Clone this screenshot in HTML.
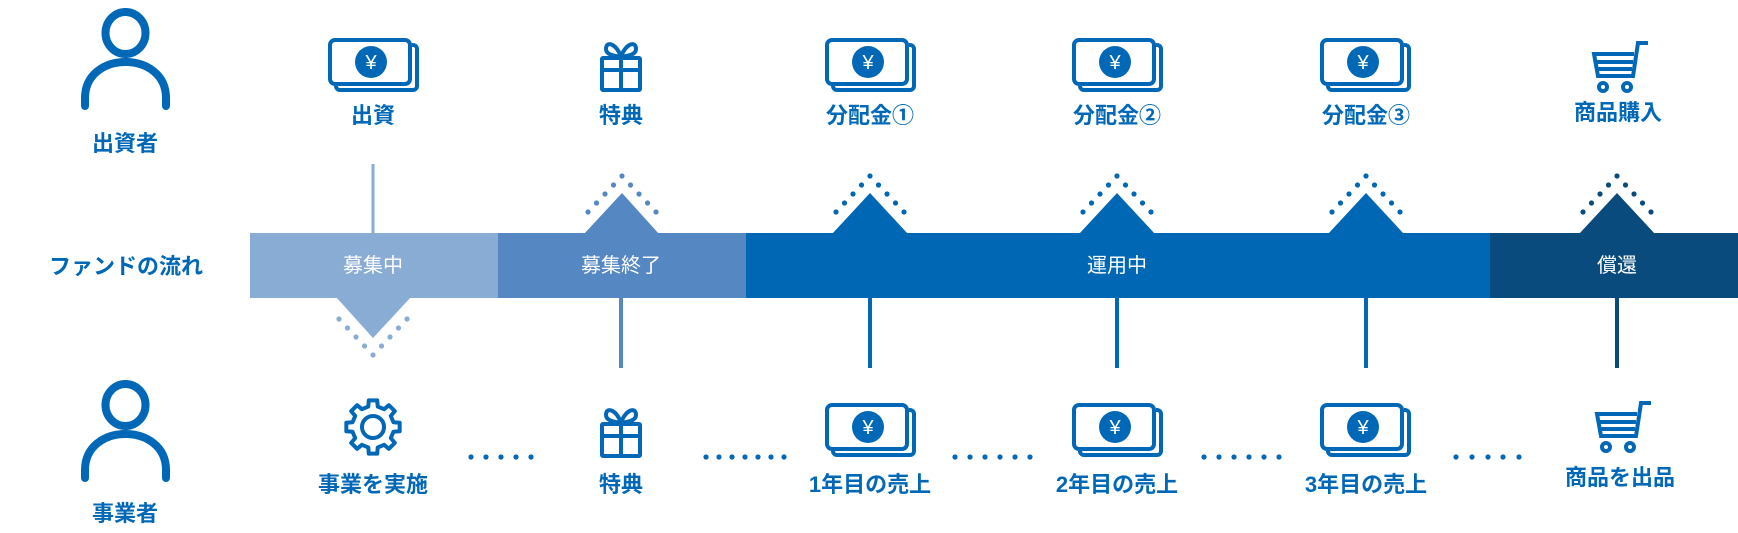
<!DOCTYPE html>
<html><head><meta charset="utf-8"><style>
html,body{margin:0;padding:0;background:#fff;}
svg{display:block;}
.l{font-family:"Liberation Sans","Noto Sans CJK JP",sans-serif;font-weight:bold;font-size:22px;fill:#0068b6;text-anchor:middle;}
.b{font-family:"Liberation Sans","Noto Sans CJK JP",sans-serif;font-size:20px;fill:#fff;text-anchor:middle;}
</style></head><body>
<svg width="1738" height="533" viewBox="0 0 1738 533" xmlns="http://www.w3.org/2000/svg">
<defs>
<g id="money" fill="none" stroke="#0068b6" stroke-width="4">
  <rect x="2" y="2" width="80" height="44" rx="5"/>
  <path d="M84,7 h1 a4,4 0 0 1 4,4 v37 a4,4 0 0 1 -4,4 h-73 a4,4 0 0 1 -4,-4"/>
  <circle cx="43" cy="24" r="16" fill="#0068b6" stroke="none"/>
  <text x="43" y="31" font-family="Liberation Sans, sans-serif" font-size="20" fill="#fff" stroke="none" text-anchor="middle">¥</text>
</g>
<g id="gift" fill="none" stroke="#0068b6" stroke-width="4">
  <rect x="-19" y="16" width="38" height="32" rx="1"/>
  <line x1="-19" y1="28" x2="19" y2="28"/>
  <line x1="0" y1="16" x2="0" y2="48"/>
  <path d="M0,15 C-4,2 -15,-2 -15,7 C-15,13 -6,14 0,15 C6,14 15,13 15,7 C15,-2 4,2 0,15"/>
</g>
<g id="cart" fill="none" stroke="#0068b6" stroke-width="4">
  <path d="M55,1 H45 L40,34 H5 L1,12 H41"/>
  <line x1="3" y1="20" x2="40" y2="20"/>
  <line x1="4" y1="27" x2="39" y2="27"/>
  <circle cx="10" cy="45" r="4"/>
  <circle cx="34" cy="45" r="4"/>
</g>
<g id="dotsUp">
  <circle cx="0" cy="176" r="2.6"/><circle cx="-8.5" cy="185" r="2.6"/><circle cx="8.5" cy="185" r="2.6"/>
  <circle cx="-17" cy="194" r="2.6"/><circle cx="17" cy="194" r="2.6"/><circle cx="-25.5" cy="203" r="2.6"/>
  <circle cx="25.5" cy="203" r="2.6"/><circle cx="-34" cy="212" r="2.6"/><circle cx="34" cy="212" r="2.6"/>
</g>
<g id="person" fill="none" stroke="#0068b6" stroke-width="8" stroke-linecap="round">
  <ellipse cx="125.5" cy="33" rx="20" ry="21"/>
  <path d="M85,106 V98 C85,50 166,50 166,98 V106"/>
</g>
</defs>

<use href="#person"/>
<text class="l" x="125" y="151">出資者</text>
<use href="#person" transform="translate(0,372)"/>
<text class="l" x="125" y="521">事業者</text>
<text class="l" x="126" y="274" style="font-size:22px">ファンドの流れ</text>

<rect x="250" y="233" width="248" height="65" fill="#88acd4"/>
<rect x="498" y="233" width="248" height="65" fill="#5587c2"/>
<rect x="746" y="233" width="744" height="65" fill="#0067b5"/>
<rect x="1490" y="233" width="248" height="65" fill="#0a4b7e"/>
<text class="b" x="373" y="272">募集中</text>
<text class="b" x="621" y="272">募集終了</text>
<text class="b" x="1117" y="272">運用中</text>
<text class="b" x="1617" y="272">償還</text>

<line x1="373" y1="164" x2="373" y2="233" stroke="#88acd4" stroke-width="3"/>
<polygon points="336,297 373,338 411,297" fill="#88acd4"/>
<g fill="#88acd4" transform="translate(373,531) scale(1,-1)"><use href="#dotsUp"/></g>

<polygon points="584,234 622,193 659,234" fill="#5587c2"/>
<g fill="#5587c2" transform="translate(622,0)"><use href="#dotsUp"/></g>
<polygon points="832,234 870,193 908,234" fill="#0067b5"/>
<g fill="#0067b5" transform="translate(870,0)"><use href="#dotsUp"/></g>
<polygon points="1079,234 1117,193 1155,234" fill="#0067b5"/>
<g fill="#0067b5" transform="translate(1117,0)"><use href="#dotsUp"/></g>
<polygon points="1328,234 1366,193 1404,234" fill="#0067b5"/>
<g fill="#0067b5" transform="translate(1366,0)"><use href="#dotsUp"/></g>
<polygon points="1579,234 1617,193 1655,234" fill="#0a4b7e"/>
<g fill="#0a4b7e" transform="translate(1617,0)"><use href="#dotsUp"/></g>

<line x1="621" y1="297" x2="621" y2="368" stroke="#5587c2" stroke-width="4"/>
<line x1="870" y1="297" x2="870" y2="368" stroke="#0067b5" stroke-width="4"/>
<line x1="1117" y1="297" x2="1117" y2="368" stroke="#0067b5" stroke-width="4"/>
<line x1="1366" y1="297" x2="1366" y2="368" stroke="#0067b5" stroke-width="4"/>
<line x1="1617" y1="297" x2="1617" y2="368" stroke="#0a4b7e" stroke-width="4"/>

<use href="#money" transform="translate(328,38)"/>
<text class="l" x="373" y="123">出資</text>
<use href="#gift" transform="translate(621,42)"/>
<text class="l" x="621" y="123">特典</text>
<use href="#money" transform="translate(825,38)"/>
<text class="l" x="870" y="123">分配金①</text>
<use href="#money" transform="translate(1072,38)"/>
<text class="l" x="1117" y="123">分配金②</text>
<use href="#money" transform="translate(1320,38)"/>
<text class="l" x="1366" y="123">分配金③</text>
<use href="#cart" transform="translate(1593,42)"/>
<text class="l" x="1618" y="120">商品購入</text>

<g fill="none" stroke="#0068b6" stroke-width="4" stroke-linejoin="round" transform="translate(373,427)">
  <polygon points="20.46,-4.72 26.67,-4.22 26.67,4.22 20.46,4.72 17.81,11.13 21.84,15.87 15.87,21.84 11.13,17.81 4.72,20.46 4.22,26.67 -4.22,26.67 -4.72,20.46 -11.13,17.81 -15.87,21.84 -21.84,15.87 -17.81,11.13 -20.46,4.72 -26.67,4.22 -26.67,-4.22 -20.46,-4.72 -17.81,-11.13 -21.84,-15.87 -15.87,-21.84 -11.13,-17.81 -4.72,-20.46 -4.22,-26.67 4.22,-26.67 4.72,-20.46 11.13,-17.81 15.87,-21.84 21.84,-15.87 17.81,-11.13"/>
  <circle cx="0" cy="0" r="11"/>
</g>
<text class="l" x="373" y="492">事業を実施</text>
<use href="#gift" transform="translate(621,408)"/>
<text class="l" x="621" y="492">特典</text>
<use href="#money" transform="translate(825,403)"/>
<text class="l" x="870" y="492">1年目の売上</text>
<use href="#money" transform="translate(1072,403)"/>
<text class="l" x="1117" y="492">2年目の売上</text>
<use href="#money" transform="translate(1320,403)"/>
<text class="l" x="1366" y="492">3年目の売上</text>
<use href="#cart" transform="translate(1596,402)"/>
<text class="l" x="1620" y="485">商品を出品</text>

<g fill="#0068b6">
  <circle cx="471" cy="457" r="2.6"/><circle cx="486" cy="457" r="2.6"/><circle cx="501" cy="457" r="2.6"/><circle cx="516" cy="457" r="2.6"/><circle cx="531" cy="457" r="2.6"/>
  <circle cx="706" cy="457" r="2.6"/><circle cx="719" cy="457" r="2.6"/><circle cx="732" cy="457" r="2.6"/><circle cx="745" cy="457" r="2.6"/><circle cx="758" cy="457" r="2.6"/><circle cx="771" cy="457" r="2.6"/><circle cx="784" cy="457" r="2.6"/>
  <circle cx="955" cy="457" r="2.6"/><circle cx="970" cy="457" r="2.6"/><circle cx="985" cy="457" r="2.6"/><circle cx="1000" cy="457" r="2.6"/><circle cx="1015" cy="457" r="2.6"/><circle cx="1030" cy="457" r="2.6"/>
  <circle cx="1204" cy="457" r="2.6"/><circle cx="1219" cy="457" r="2.6"/><circle cx="1234" cy="457" r="2.6"/><circle cx="1249" cy="457" r="2.6"/><circle cx="1264" cy="457" r="2.6"/><circle cx="1279" cy="457" r="2.6"/>
  <circle cx="1456" cy="457" r="2.6"/><circle cx="1472" cy="457" r="2.6"/><circle cx="1488" cy="457" r="2.6"/><circle cx="1503" cy="457" r="2.6"/><circle cx="1519" cy="457" r="2.6"/>
</g>
</svg>
</body></html>
